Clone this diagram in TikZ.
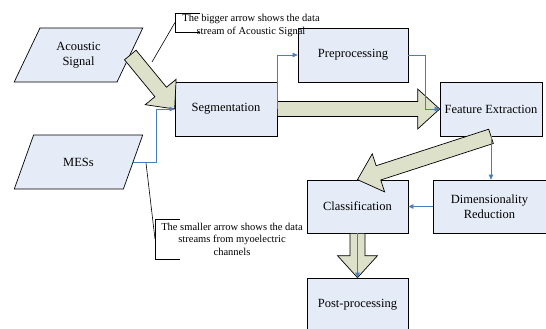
\documentclass[tikz,border=0pt]{standalone}
\usepackage{fontspec}
\setmainfont{Liberation Serif}
\usetikzlibrary{positioning}
\usetikzlibrary{shapes.geometric}
\usetikzlibrary{arrows.meta}
\usetikzlibrary{calc}

\definecolor{boxfill}{RGB}{230,236,247}
\definecolor{arrowfill}{RGB}{221,225,202}
\definecolor{flowblue}{RGB}{74,126,187}

% wide outlined arrow from #1 to #2
\newcommand{\bigarrow}[2]{%
  \path (#1) coordinate (ba-a) (#2) coordinate (ba-b);
  \coordinate (ba-h) at ($(ba-b)!22pt!(ba-a)$);
  \draw[bigflow] ($(ba-a)!7.5pt!90:(ba-b)$) -- ($(ba-h)!7.5pt!90:(ba-b)$)
    -- ($(ba-h)!20pt!90:(ba-b)$) -- (ba-b) -- ($(ba-h)!20pt!-90:(ba-b)$)
    -- ($(ba-h)!7.5pt!-90:(ba-b)$) -- ($(ba-a)!7.5pt!-90:(ba-b)$) -- cycle;}

\begin{document}
\begin{tikzpicture}[x=1pt, y=-1pt,
			box/.style={draw, fill=boxfill, line width=0.7pt, minimum width=102pt, minimum height=54pt, inner xsep=1pt, align=center, font=\fontsize{12.5}{14.5}\selectfont},
			data/.style={trapezium, trapezium left angle=62, trapezium right angle=118, trapezium stretches=true, draw, fill=boxfill, line width=0.7pt, minimum width=129pt, minimum height=54pt, align=center, font=\fontsize{12.5}{14.5}\selectfont},
			flow/.style={draw=flowblue, line width=0.7pt, -{Triangle[length=5pt,width=4.5pt]}},
			bigflow/.style={draw, line width=0.7pt, fill=arrowfill, line join=miter},
			note/.style={align=center, inner sep=0pt, font=\fontsize{10.5}{12.5}\selectfont}]
			\clip (0,0) rectangle (546,329);
			\node[data] (acoustic) at (78.5,55) {Acoustic\\Signal};
			\node[data] (mes) at (78.5,162) {MESs};
			\node[box] (seg) at (226,109) {Segmentation};
			\node[box, minimum width=110pt] (pre) at (353,55) {Preprocessing};
			\node[box] (feat) at (491,109) {Feature Extraction};
			\node[box, minimum width=101pt, minimum height=53pt] (cls) at (357.5,206.5) {Classification};
			\node[box, minimum width=113pt, minimum height=53pt] (dim) at (489.5,206.5) {Dimensionality\\Reduction};
			\node[box, minimum width=101pt] (post) at (357.5,305) {Post-processing};
			% data stream of the acoustic signal
			\bigarrow{acoustic.east}{seg.west}
			\bigarrow{seg.east}{feat.west}
			\bigarrow{feat.south}{cls.north}
			\bigarrow{cls.south}{post.north}
			% myoelectric channels
			\path[flow] (mes.east) -- ++(23,0) |- (seg.west);
			\path[flow] (seg.east) |- (pre.west);
			\path[flow] (pre.east) -- ++(17,0) |- (feat.west);
			\path[flow] (feat.south) -- (feat.south |- dim.north);
			\path[flow] (dim.west) -- (cls.east);
			\path[flow] (cls.south) -- (post.north);
			% callouts
			\node[note] (bignote) at (251,25.5) {The bigger arrow shows the data\\stream of Acoustic Signal};
			\coordinate (bigbrace) at (175,22.5);
			\coordinate (biglead) at (152,62);
			\draw[line width=0.6pt] ($(bigbrace)+(25,-9.5)$) -| ($(bigbrace)+(0,9.5)$) -- ++(25,0);
			\draw[line width=0.6pt] (biglead) -- (bigbrace);
			\node[note] (smallnote) at (232,239) {The smaller arrow shows the data\\streams from myoelectric\\channels};
			\coordinate (smallbrace) at (155,239);
			\coordinate (smalllead) at (146,163);
			\draw[line width=0.6pt] ($(smallbrace)+(25,-20)$) -| ($(smallbrace)+(0,20)$) -- ++(25,0);
			\draw[line width=0.6pt] (smalllead) -- (smallbrace);
	\end{tikzpicture}
\end{document}
